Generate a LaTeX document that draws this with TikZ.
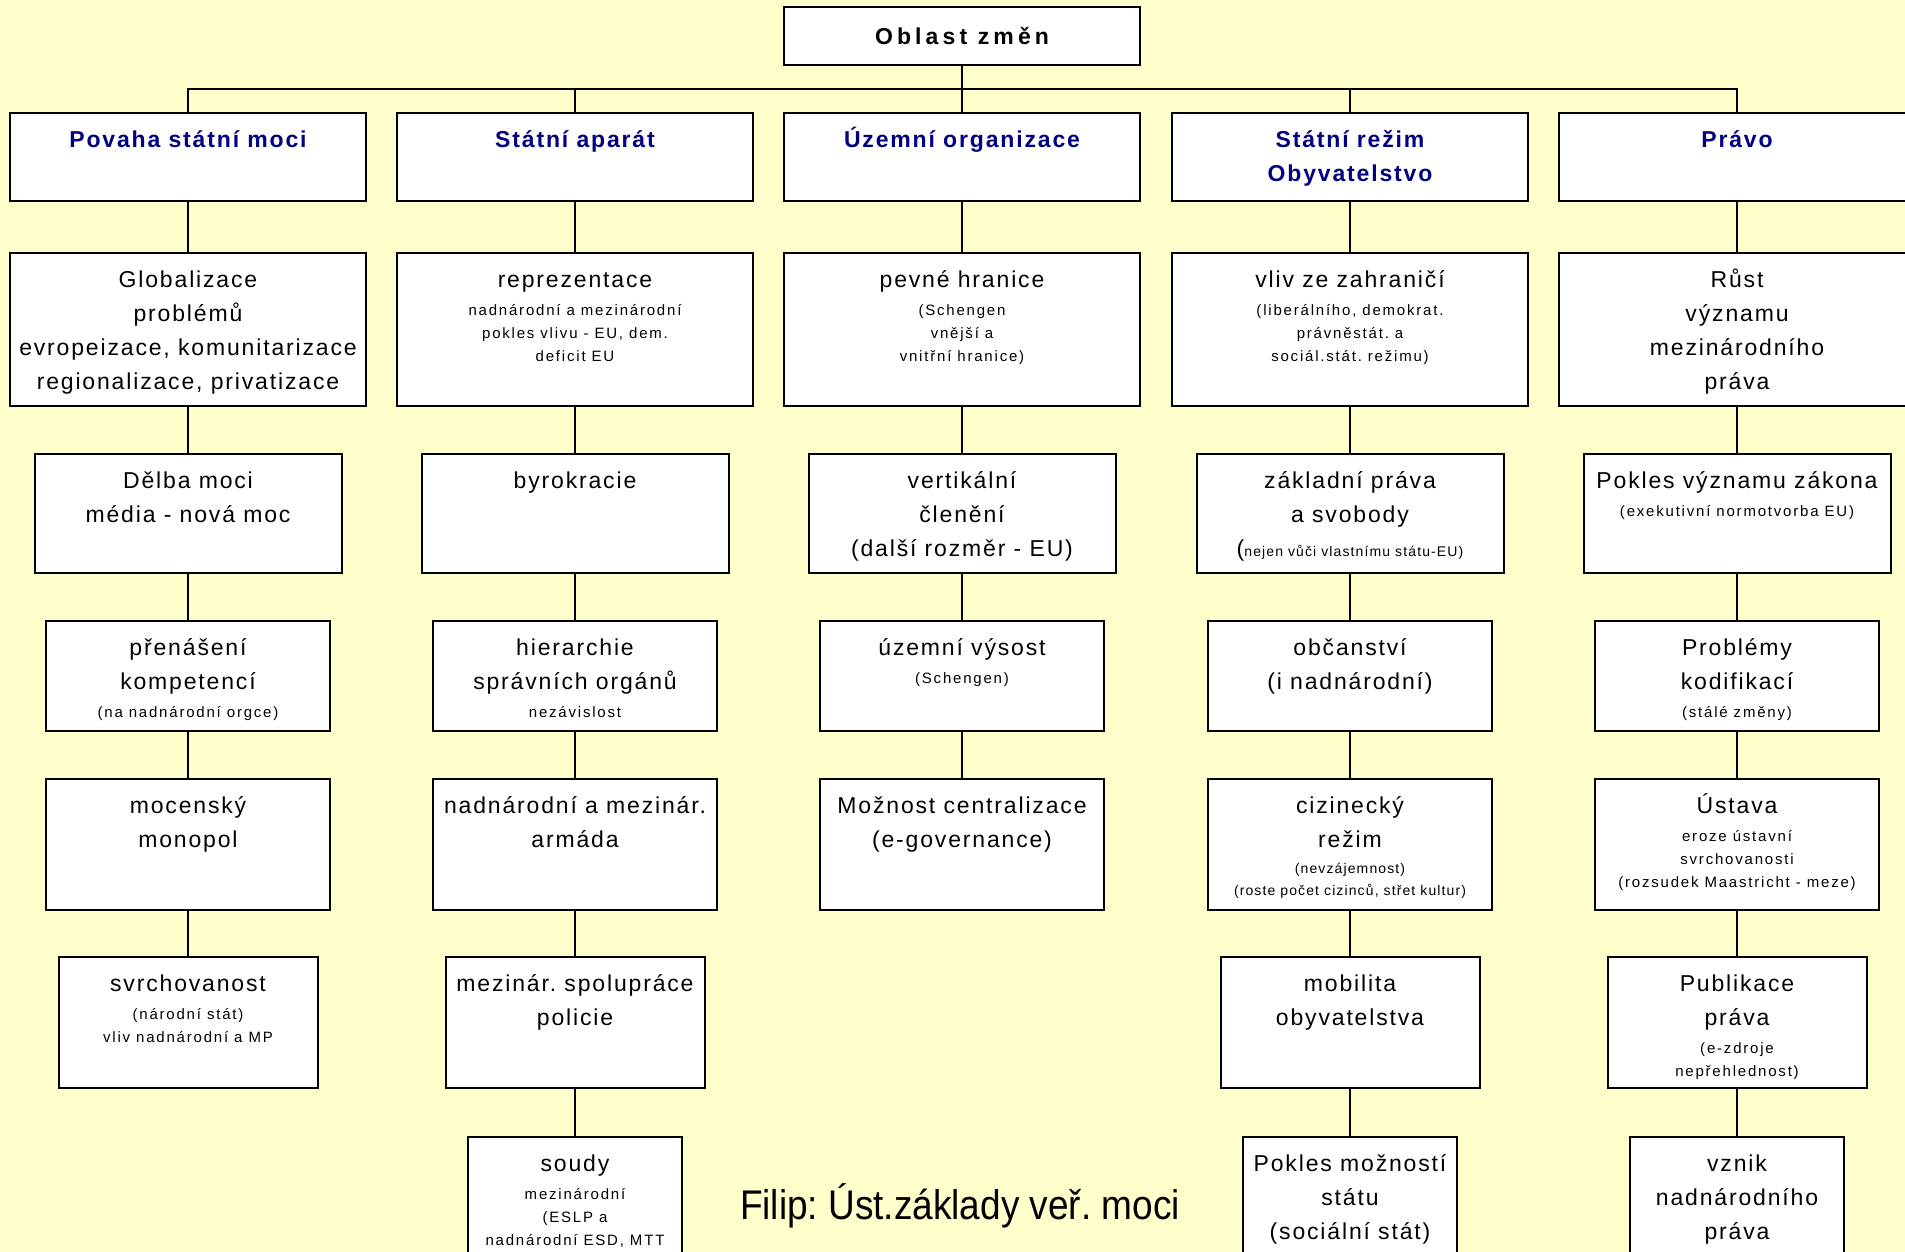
\documentclass[tikz,border=0pt]{standalone}
\usepackage{fontspec}
\setmainfont{Liberation Sans}
\newfontfamily\boxfont{Liberation Sans}[LetterSpace=8]
\newfontfamily\smallfont{Liberation Sans}[LetterSpace=12]
\newfontfamily\titlefont{Liberation Sans}[LetterSpace=18]
\definecolor{paper}{HTML}{FFFFCC}
\definecolor{navy}{HTML}{000080}
\frenchspacing
\newcommand{\cell}[3]{\parbox[c][#2][t]{#1}{\centering\rule{0pt}{17pt}#3\par}}
\newcommand{\subtxt}{\par\vspace{2.5pt}\smallfont\fontsize{7.5pt}{11.5pt}\selectfont}
\newcommand{\tinytxt}{\par\vspace{2pt}\fontsize{7pt}{11pt}\selectfont}
\begin{document}
\begin{tikzpicture}[x=0.5pt, y=-0.5pt,
    box/.style={draw, fill=white, line width=1pt, inner sep=0pt, anchor=north, font=\boxfont\fontsize{11.5pt}{17pt}\selectfont},
    head/.style={box, text=navy, font=\boxfont\bfseries\fontsize{11.5pt}{17pt}\selectfont},
    topbox/.style={draw, fill=white, line width=1pt, anchor=north, minimum width=178pt, minimum height=29pt, font=\titlefont\bfseries\fontsize{11.5pt}{14pt}\selectfont},
    link/.style={line width=1pt}]
    \useasboundingbox (0,0) rectangle (1905,1252);
    \fill[paper] (0,0) rectangle (1905,1252);
    \clip (0,0) rectangle (1905,1252);

    \node[topbox] (oblast) at (962,6) {Oblast změn};
    \coordinate (bus) at (962,89);

    \node[head] (moc1) at (188,112) {\cell{178pt}{44pt}{Povaha státní moci}};
    \node[head] (apar1) at (575,112) {\cell{178pt}{44pt}{Státní aparát}};
    \node[head] (uzem1) at (962,112) {\cell{178pt}{44pt}{Územní organizace}};
    \node[head] (rez1) at (1350,112) {\cell{178pt}{44pt}{Státní režim\\ Obyvatelstvo}};
    \node[head] (pravo1) at (1737,112) {\cell{178pt}{44pt}{Právo}};

    \node[box] (moc2) at (188,252) {\cell{178pt}{76.5pt}{Globalizace\\ problémů\\ evropeizace, komunitarizace\\ regionalizace, privatizace}};
    \node[box] (apar2) at (575,252) {\cell{178pt}{76.5pt}{reprezentace\subtxt nadnárodní a mezinárodní\\ pokles vlivu - EU, dem.\\ deficit EU}};
    \node[box] (uzem2) at (962,252) {\cell{178pt}{76.5pt}{pevné hranice\subtxt (Schengen\\ vnější a\\ vnitřní hranice)}};
    \node[box] (rez2) at (1350,252) {\cell{178pt}{76.5pt}{vliv ze zahraničí\subtxt (liberálního, demokrat.\\ právněstát. a\\ sociál.stát. režimu)}};
    \node[box] (pravo2) at (1737,252) {\cell{178pt}{76.5pt}{Růst\\ významu\\ mezinárodního\\ práva}};

    \node[box] (moc3) at (188,453) {\cell{153.5pt}{59.5pt}{Dělba moci\\ média - nová moc}};
    \node[box] (apar3) at (575,453) {\cell{153.5pt}{59.5pt}{byrokracie}};
    \node[box] (uzem3) at (962,453) {\cell{153.5pt}{59.5pt}{vertikální\\ členění\\ (další rozměr - EU)}};
    \node[box] (rez3) at (1350,453) {\cell{153.5pt}{59.5pt}{základní práva\\ a svobody\\ ({\fontsize{7pt}{17pt}\selectfont nejen vůči vlastnímu státu-EU)}}};
    \node[box] (pravo3) at (1737,453) {\cell{153.5pt}{59.5pt}{Pokles významu zákona\subtxt (exekutivní normotvorba EU)}};

    \node[box] (moc4) at (188,620) {\cell{142pt}{55pt}{přenášení\\ kompetencí\subtxt (na nadnárodní orgce)}};
    \node[box] (apar4) at (575,620) {\cell{142pt}{55pt}{hierarchie\\ správních orgánů\subtxt nezávislost}};
    \node[box] (uzem4) at (962,620) {\cell{142pt}{55pt}{územní výsost\subtxt (Schengen)}};
    \node[box] (rez4) at (1350,620) {\cell{142pt}{55pt}{občanství\\ (i nadnárodní)}};
    \node[box] (pravo4) at (1737,620) {\cell{142pt}{55pt}{Problémy\\ kodifikací\subtxt (stálé změny)}};

    \node[box] (moc5) at (188,778) {\cell{142pt}{65.5pt}{mocenský\\ monopol}};
    \node[box] (apar5) at (575,778) {\cell{142pt}{65.5pt}{nadnárodní a mezinár.\\ armáda}};
    \node[box] (uzem5) at (962,778) {\cell{142pt}{65.5pt}{Možnost centralizace\\ (e-governance)}};
    \node[box] (rez5) at (1350,778) {\cell{142pt}{65.5pt}{cizinecký\\ režim\tinytxt (nevzájemnost)\\ (roste počet cizinců, střet kultur)}};
    \node[box] (pravo5) at (1737,778) {\cell{142pt}{65.5pt}{Ústava\subtxt eroze ústavní\\ svrchovanosti\\ (rozsudek Maastricht - meze)}};

    \node[box] (moc6) at (188,956) {\cell{129.5pt}{65.5pt}{svrchovanost\subtxt (národní stát)\\ vliv nadnárodní a MP}};
    \node[box] (apar6) at (575,956) {\cell{129.5pt}{65.5pt}{mezinár. spolupráce\\ policie}};
    \node[box] (rez6) at (1350,956) {\cell{129.5pt}{65.5pt}{mobilita\\ obyvatelstva}};
    \node[box] (pravo6) at (1737,956) {\cell{129.5pt}{65.5pt}{Publikace\\ práva\subtxt (e-zdroje\\ nepřehlednost)}};

    \node[box] (apar7) at (575,1136) {\cell{107pt}{65.5pt}{soudy\subtxt mezinárodní\\ (ESLP a\\ nadnárodní ESD, MTT}};
    \node[box] (rez7) at (1350,1136) {\cell{107pt}{65.5pt}{Pokles možností\\ státu\\ (sociální stát)}};
    \node[box] (pravo7) at (1737,1136) {\cell{107pt}{65.5pt}{vznik\\ nadnárodního\\ práva}};

    \node[anchor=base] (autor) at (960,1219) {\fontsize{18.5pt}{22pt}\selectfont\scalebox{1}[1.12]{Filip: Úst.základy veř. moci}};

    \draw[link] (oblast.south) -- (bus);
    \draw[link] (moc1.north) |- (bus) -| (pravo1.north);
    \draw[link] (apar1.north) -- (apar1.north |- bus);
    \draw[link] (uzem1.north) -- (uzem1.north |- bus);
    \draw[link] (rez1.north) -- (rez1.north |- bus);
    \foreach \col/\last in {moc/5,apar/6,uzem/4,rez/6,pravo/6}
        \foreach \i in {1,...,\last} {
            \pgfmathtruncatemacro{\j}{\i+1}
            \draw[link] (\col\i.south) -- (\col\j.north);
        }
\end{tikzpicture}
\end{document}
